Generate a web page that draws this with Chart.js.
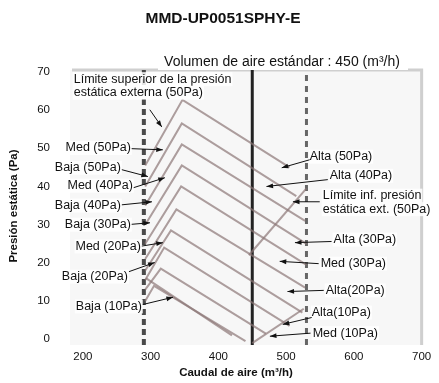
<!DOCTYPE html>
<html>
<head>
<meta charset="utf-8">
<script src="https://cdn.jsdelivr.net/npm/chart.js@4/dist/chart.umd.min.js"></script>
<style>
  html, body { margin: 0; padding: 0; background: #fff; }
  #wrap { width: 439px; height: 383px; }
</style>
</head>
<body>
<div id="wrap"><canvas id="chart" width="439" height="383"></canvas></div>
<script>
// ticks
const xTicks = [200, 300, 400, 500, 600, 700];
const yTicks = [0, 10, 20, 30, 40, 50, 60, 70];

// vertical reference lines (m3/h)
const minFlow = 290;
const stdFlow = 450;
const maxFlow = 530;

// fan curves: flow points and pressure points
const curveNames = ['Alta (50Pa)', 'Med (50Pa)', 'Alta (40Pa)', 'Med (40Pa)', 'Alta (30Pa)',
  'Med (30Pa)', 'Alta (20Pa)', 'Med (20Pa)', 'Alta (10Pa)', 'Med (10Pa)', 'Baja (10Pa)'];
const curveFlow = [
  [292, 347, 505],
  [292, 346, 515],
  [292, 346, 528],
  [292, 346, 530],
  [292, 345, 530],
  [292, 338, 528],
  [292, 330, 524],
  [292, 320, 505],
  [292, 315, 470],
  [292, 305, 440],
  [293, 420]
];
const curvePress = [
  [45.5, 62.7, 45],
  [40, 56.5, 37.5],
  [35, 51, 31],
  [30, 45.5, 25],
  [25, 40, 19.5],
  [21, 34, 13.5],
  [18, 28.5, 7],
  [15.5, 24, 3.5],
  [13, 18.5, 1.5],
  [10, 14, -0.5],
  [16, 1]
];
// lower limit lines
const limInfFlow = [445, 530];
const limInfPress = [22, 39.5];
const limInf2Flow = [450, 526];
const limInf2Press = [-1, 8];

// callouts: text, text anchor (flow, pressure), arrow start, arrow tip
const notes = [
  { t: ['Límite superior de la presión', 'estática externa (50Pa)'], at: [186.5, 68.1], al: 'left', from: [298.8, 60.1], to: [316.5, 55.6] },
  { t: ['Med (50Pa)'], at: [270.8, 50.1], al: 'right', from: [272, 49.9], to: [318, 49.6] },
  { t: ['Baja (50Pa)'], at: [256, 44.9], al: 'right', from: [257.5, 44.4], to: [296, 42.6] },
  { t: ['Med (40Pa)'], at: [273.7, 40.2], al: 'right', from: [275, 39.7], to: [321, 42.3] },
  { t: ['Baja (40Pa)'], at: [256, 35], al: 'right', from: [257.5, 35.2], to: [302, 36] },
  { t: ['Baja (30Pa)'], at: [270.8, 30], al: 'right', from: [272, 30.1], to: [299, 30.5] },
  { t: ['Med (20Pa)'], at: [285.5, 24.3], al: 'right', from: [287, 24.4], to: [318, 25.3] },
  { t: ['Baja (20Pa)'], at: [266.4, 16.4], al: 'right', from: [268, 17.7], to: [306, 20.1] },
  { t: ['Baja (10Pa)'], at: [287, 8.6], al: 'right', from: [288.5, 9.1], to: [333, 11] },
  { t: ['Alta (50Pa)'], at: [534.8, 47.8], al: 'left', from: [534.8, 47], to: [493.5, 44.9] },
  { t: ['Alta (40Pa)'], at: [564.3, 42.8], al: 'left', from: [561.5, 41.8], to: [471, 40] },
  { t: ['Límite inf. presión', 'estática ext. (50Pa)'], at: [554, 37.6], al: 'left', from: [549.6, 36], to: [510, 36] },
  { t: ['Alta (30Pa)'], at: [570, 26.1], al: 'left', from: [567, 25.6], to: [513, 25.3] },
  { t: ['Med (30Pa)'], at: [551, 19.8], al: 'left', from: [548, 19.8], to: [490.5, 20.4] },
  { t: ['Alta(20Pa)'], at: [558.4, 12.8], al: 'left', from: [555.5, 12.8], to: [502, 12.5] },
  { t: ['Alta(10Pa)'], at: [537.8, 7], al: 'left', from: [537.8, 5.7], to: [495, 3.9] },
  { t: ['Med (10Pa)'], at: [539.2, 1.6], al: 'left', from: [536, 1.6], to: [476, 0.8] }
];

const FONT = 'Liberation Sans, Arial, sans-serif';
const curveColor = 'rgba(140, 118, 118, 0.7)';

function pts(xs, ys) {
  return xs.map((x, i) => ({ x: x, y: ys[i] }));
}

const datasets = curveNames.map((name, i) => ({
  label: name,
  data: pts(curveFlow[i], curvePress[i]),
  borderColor: curveColor,
  borderWidth: 2,
  pointRadius: 0,
  tension: 0
}));
datasets.push({ label: 'Límite inf.', data: pts(limInfFlow, limInfPress), borderColor: curveColor, borderWidth: 2, pointRadius: 0 });
datasets.push({ label: 'Límite inf. 2', data: pts(limInf2Flow, limInf2Press), borderColor: curveColor, borderWidth: 2, pointRadius: 0 });
datasets.push({ label: 'min', data: pts([minFlow, minFlow], [-1.5, 70.5]), borderColor: '#4a4a4a', borderWidth: 4, borderDash: [6, 4], pointRadius: 0 });
datasets.push({ label: 'std', data: pts([stdFlow, stdFlow], [-1.5, 70.5]), borderColor: '#222', borderWidth: 3, pointRadius: 0 });
datasets.push({ label: 'max', data: pts([maxFlow, maxFlow], [-1.5, 70.5]), borderColor: '#666', borderWidth: 3, borderDash: [6, 5], pointRadius: 0 });

function arrow(ctx, x1, y1, x2, y2) {
  ctx.beginPath();
  ctx.moveTo(x1, y1);
  ctx.lineTo(x2, y2);
  ctx.stroke();
  const a = Math.atan2(y2 - y1, x2 - x1);
  ctx.beginPath();
  ctx.moveTo(x2, y2);
  ctx.lineTo(x2 - 7 * Math.cos(a - 0.35), y2 - 7 * Math.sin(a - 0.35));
  ctx.lineTo(x2 - 7 * Math.cos(a + 0.35), y2 - 7 * Math.sin(a + 0.35));
  ctx.closePath();
  ctx.fill();
}

const decor = {
  id: 'decor',
  beforeDatasetsDraw(chart) {
    const { ctx, chartArea: a } = chart;
    ctx.save();
    ctx.fillStyle = '#f7f7f7';
    ctx.fillRect(a.left, a.top, a.right - a.left, a.bottom - a.top);
    ctx.strokeStyle = '#cfcfcf';
    ctx.lineWidth = 3;
    const xs = chart.scales.x;
    ctx.beginPath();
    ctx.moveTo(a.left + 2, a.top);
    ctx.lineTo(xs.getPixelForValue(700), a.top);
    ctx.lineTo(xs.getPixelForValue(700), a.bottom);
    ctx.stroke();
    ctx.restore();
  },
  afterDraw(chart) {
    const { ctx } = chart;
    const xs = chart.scales.x, ys = chart.scales.y;
    ctx.save();
    ctx.fillStyle = '#111';
    ctx.textAlign = 'center';
    ctx.textBaseline = 'middle';
    ctx.font = 'bold 15.5px ' + FONT;
    ctx.fillText('MMD-UP0051SPHY-E', 223, 19);
    ctx.font = '14px ' + FONT;
    ctx.fillStyle = '#fff';
    ctx.fillRect(158, 54, 250, 16);
    ctx.fillStyle = '#111';
    ctx.fillText('Volumen de aire estándar : 450 (m³/h)', 282, 62);
    ctx.font = 'bold 11.5px ' + FONT;
    ctx.fillText('Caudal de aire (m³/h)', 236, 373);
    ctx.save();
    ctx.translate(14, 206);
    ctx.rotate(-Math.PI / 2);
    ctx.fillText('Presión estática (Pa)', 0, 0);
    ctx.restore();

    ctx.font = '12.5px ' + FONT;
    ctx.strokeStyle = '#111';
    ctx.lineWidth = 1;
    notes.forEach(n => {
      const tx = xs.getPixelForValue(n.at[0]);
      const ty = ys.getPixelForValue(n.at[1]);
      ctx.textAlign = n.al;
      n.t.forEach((line, k) => {
        const w = ctx.measureText(line).width;
        const lx = n.al === 'left' ? tx : tx - w;
        ctx.fillStyle = 'rgba(255,255,255,0.85)';
        ctx.fillRect(lx - 1, ty + k * 13.5 - 7, w + 2, 14);
        ctx.fillStyle = '#111';
        ctx.fillText(line, tx, ty + k * 13.5);
      });
      arrow(ctx, xs.getPixelForValue(n.from[0]), ys.getPixelForValue(n.from[1]),
        xs.getPixelForValue(n.to[0]), ys.getPixelForValue(n.to[1]));
    });
    ctx.restore();
  }
};

new Chart(document.getElementById('chart'), {
  type: 'line',
  data: { datasets: datasets },
  options: {
    responsive: false,
    animation: false,
    layout: { padding: { top: 70, right: 16, bottom: 0, left: 0 } },
    plugins: { legend: { display: false }, tooltip: { enabled: false }, title: { display: false } },
    scales: {
      x: {
        type: 'linear', min: 181, max: 702,
        afterBuildTicks: s => { s.ticks = xTicks.map(v => ({ value: v })); },
        afterFit: s => { s.height = 38; },
        grid: { display: false, drawTicks: false },
        border: { display: false },
        ticks: { color: '#111', font: { size: 11.5, family: FONT }, padding: 5 }
      },
      y: {
        type: 'linear', min: -1.5, max: 70.5,
        afterBuildTicks: s => { s.ticks = yTicks.map(v => ({ value: v })); },
        afterFit: s => { s.width = 70; },
        grid: { color: 'rgba(0,0,0,0.05)', drawTicks: false },
        border: { display: false },
        ticks: { color: '#111', font: { size: 11.5, family: FONT }, padding: 20 }
      }
    }
  },
  plugins: [decor]
});
</script>
</body>
</html>
